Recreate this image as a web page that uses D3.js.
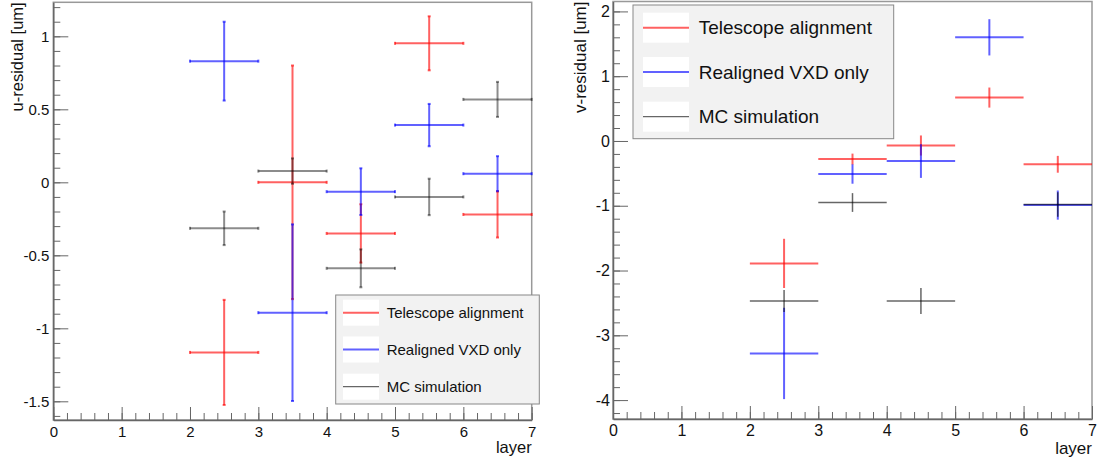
<!DOCTYPE html>
<html>
<head>
<meta charset="utf-8">
<script src="https://cdn.jsdelivr.net/npm/d3@7"></script>
<style>
  html, body { margin: 0; padding: 0; background: #fff; }
  svg { display: block; font-family: "Liberation Sans", Arial, Helvetica, sans-serif; }
</style>
</head>
<body>
<svg id="chart" width="1106" height="461"></svg>
<script>
// Layer bins (bin centres, each bin is one unit wide)
const layers = [2.5, 3.5, 4.5, 5.5, 6.5];
const binHalfWidth = 0.5;

// u-residuals [um]
const uTelescope    = [-1.165, 0.0, -0.35, 0.952, -0.22];
const uTelescopeErr = [0.36, 0.80, 0.20, 0.185, 0.158];
const uVxd          = [0.83, -0.893, -0.064, 0.392, 0.059];
const uVxdErr       = [0.27, 0.605, 0.16, 0.145, 0.12];
const uMc           = [-0.315, 0.077, -0.589, -0.10, 0.568];
const uMcErr        = [0.115, 0.087, 0.13, 0.125, 0.12];

// v-residuals [um] (no MC entry in layer 6)
const vTelescope    = [-1.89, -0.28, -0.07, 0.67, -0.36];
const vTelescopeErr = [0.38, 0.085, 0.155, 0.155, 0.13];
const vVxd          = [-3.28, -0.51, -0.31, 1.6, -0.99];
const vVxdErr       = [0.705, 0.15, 0.26, 0.28, 0.225];
const vMc           = [-2.47, -0.95, -2.47, null, -0.98];
const vMcErr        = [0.17, 0.145, 0.2, null, 0.19];

const seriesNames = ["Telescope alignment", "Realigned VXD only", "MC simulation"];
const seriesColors = ["#ff0000", "#0000ff", "#000000"];

const xTicks = [0, 1, 2, 3, 4, 5, 6, 7];
const uTicks = [-1.5, -1, -0.5, 0, 0.5, 1];
const vTicks = [-4, -3, -2, -1, 0, 1, 2];

const svg = d3.select("#chart");

function drawPanel(cfg) {
  const g = svg.append("g");
  const x = d3.scaleLinear().domain([0, 7]).range([cfg.left, cfg.right]);
  const y = d3.scaleLinear().domain(cfg.yDomain).range([cfg.bottom, cfg.top]);

  // frame
  g.append("rect")
    .attr("x", cfg.left).attr("y", cfg.top)
    .attr("width", cfg.right - cfg.left).attr("height", cfg.bottom - cfg.top)
    .attr("fill", "none").attr("stroke", "#999").attr("stroke-width", 1.5);

  // minor ticks
  const xMinor = d3.range(0, 7.0001, 0.2).map(v => +v.toFixed(2));
  g.append("g").attr("transform", `translate(0,${cfg.bottom})`)
    .call(d3.axisBottom(x).tickValues(xMinor).tickSizeInner(-7).tickSizeOuter(0).tickFormat(""))
    .call(a => a.select(".domain").remove())
    .call(a => a.selectAll("line").attr("stroke", "#666"));
  const yMinor = d3.range(cfg.yMinorStart, cfg.yDomain[1] + 1e-6, cfg.yMinorStep).map(v => +v.toFixed(2));
  g.append("g").attr("transform", `translate(${cfg.left},0)`)
    .call(d3.axisLeft(y).tickValues(yMinor).tickSizeInner(-7).tickSizeOuter(0).tickFormat(""))
    .call(a => a.select(".domain").remove())
    .call(a => a.selectAll("line").attr("stroke", "#666"));

  // major ticks + labels
  g.append("g").attr("transform", `translate(0,${cfg.bottom})`)
    .call(d3.axisBottom(x).tickValues(xTicks).tickSizeInner(-13).tickSizeOuter(0)
      .tickPadding(cfg.xPad).tickFormat(d3.format("d")))
    .call(a => a.select(".domain").attr("stroke", "#666").attr("stroke-width", 1.5))
    .call(a => a.selectAll("line").attr("stroke", "#666"))
    .call(a => a.selectAll("text").attr("font-size", cfg.tickFont).attr("fill", "#111")
      .attr("font-family", "Liberation Sans, Arial, sans-serif"));
  g.append("g").attr("transform", `translate(${cfg.left},0)`)
    .call(d3.axisLeft(y).tickValues(cfg.yTicks).tickSizeInner(-15).tickSizeOuter(0)
      .tickPadding(cfg.yPad).tickFormat(d => String(d)))
    .call(a => a.select(".domain").attr("stroke", "#666").attr("stroke-width", 1.5))
    .call(a => a.selectAll("line").attr("stroke", "#666"))
    .call(a => a.selectAll("text").attr("font-size", cfg.tickFont).attr("fill", "#111")
      .attr("font-family", "Liberation Sans, Arial, sans-serif"));

  // axis titles
  g.append("text").attr("x", cfg.right).attr("y", cfg.xTitleY)
    .attr("text-anchor", "end").attr("font-size", cfg.titleFont).attr("fill", "#111").text("layer");
  g.append("text")
    .attr("transform", `translate(${cfg.yTitleX},${cfg.top})rotate(-90)`)
    .attr("text-anchor", "end").attr("font-size", cfg.titleFont).attr("fill", "#111").text(cfg.yTitle);

  // error-bar crosses
  cfg.series.forEach((s, si) => {
    const color = seriesColors[si];
    const isMc = si === 2;
    const sg = g.append("g").attr("stroke", color)
      .attr("stroke-opacity", isMc ? cfg.mcOpacity : 0.62)
      .attr("stroke-width", isMc ? cfg.mcWidth : 2).attr("fill", "none");
    layers.forEach((lx, i) => {
      const v = s.values[i], e = s.errs[i];
      if (v == null) return;
      const cx = x(lx), cy = y(v);
      const x0 = x(lx - binHalfWidth), x1 = x(lx + binHalfWidth);
      const y0 = y(v + e), y1 = y(v - e);
      sg.append("line").attr("x1", x0).attr("x2", x1).attr("y1", cy).attr("y2", cy);
      sg.append("line").attr("x1", cx).attr("x2", cx).attr("y1", y0).attr("y2", y1);
      if (cfg.caps) {
        sg.append("line").attr("x1", x0).attr("x2", x0).attr("y1", cy - 1.5).attr("y2", cy + 1.5);
        sg.append("line").attr("x1", x1).attr("x2", x1).attr("y1", cy - 1.5).attr("y2", cy + 1.5);
        sg.append("line").attr("x1", cx - 1.5).attr("x2", cx + 1.5).attr("y1", y0).attr("y2", y0);
        sg.append("line").attr("x1", cx - 1.5).attr("x2", cx + 1.5).attr("y1", y1).attr("y2", y1);
      }
    });
  });

  // legend
  const L = cfg.legend;
  const lg = g.append("g");
  lg.append("rect").attr("x", L.x0).attr("y", L.y0).attr("width", L.x1 - L.x0).attr("height", L.y1 - L.y0)
    .attr("fill", "#f2f2f2").attr("stroke", "#888").attr("stroke-width", 1);
  seriesNames.forEach((name, i) => {
    const ly = L.rows[i];
    lg.append("rect").attr("x", L.sx0).attr("y", ly - L.boxH / 2).attr("width", L.sx1 - L.sx0).attr("height", L.boxH)
      .attr("fill", "#fff");
    lg.append("line").attr("x1", L.sx0).attr("x2", L.sx1).attr("y1", ly).attr("y2", ly)
      .attr("stroke", seriesColors[i]).attr("stroke-opacity", i === 2 ? 0.6 : 0.62).attr("stroke-width", i === 2 ? 1.2 : 2);
    lg.append("text").attr("x", L.tx).attr("y", ly).attr("dy", "0.35em")
      .attr("font-size", L.font).attr("fill", "#111").text(name);
  });
}

drawPanel({
  left: 53.3, right: 531.7, top: 2.3, bottom: 420,
  yDomain: [-1.628, 1.233], yTicks: uTicks, yMinorStart: -1.6, yMinorStep: 0.1,
  xPad: 6, yPad: 4, tickFont: 15, titleFont: 16.5, xTitleY: 453,
  yTitle: "u-residual [um]", yTitleX: 23, caps: true, mcOpacity: 0.45, mcWidth: 2,
  series: [
    { values: uTelescope, errs: uTelescopeErr },
    { values: uVxd, errs: uVxdErr },
    { values: uMc, errs: uMcErr }
  ],
  legend: { x0: 335.7, x1: 539.3, y0: 295, y1: 404, rows: [312.7, 349.5, 386.7],
            sx0: 343, sx1: 379, boxH: 26, tx: 386.7, font: 15 }
});

drawPanel({
  left: 613, right: 1092, top: 1.5, bottom: 419,
  yDomain: [-4.292, 2.153], yTicks: vTicks, yMinorStart: -4.2, yMinorStep: 0.2,
  xPad: 6, yPad: 3, tickFont: 16, titleFont: 17, xTitleY: 454,
  yTitle: "v-residual [um]", yTitleX: 586, caps: false, mcOpacity: 0.6, mcWidth: 1.5,
  series: [
    { values: vTelescope, errs: vTelescopeErr },
    { values: vVxd, errs: vVxdErr },
    { values: vMc, errs: vMcErr }
  ],
  legend: { x0: 633, x1: 893.7, y0: 5, y1: 138.7, rows: [27.7, 72, 116.7],
            sx0: 643, sx1: 689, boxH: 30, tx: 698.7, font: 19 }
});
</script>
</body>
</html>
